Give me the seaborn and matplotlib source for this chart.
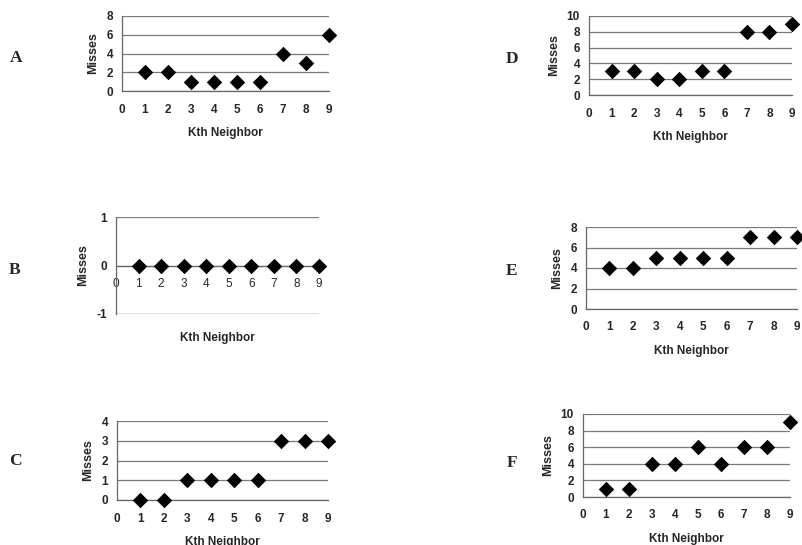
import matplotlib
matplotlib.use("Agg")
import matplotlib.pyplot as plt
import seaborn as sns
import pandas as pd

# ---- data ----
neighbors = [1, 2, 3, 4, 5, 6, 7, 8, 9]
misses_A = [2, 2, 1, 1, 1, 1, 4, 3, 6]
misses_B = [0, 0, 0, 0, 0, 0, 0, 0, 0]
misses_C = [0, 0, 1, 1, 1, 1, 3, 3, 3]
misses_D = [3, 3, 2, 2, 3, 3, 8, 8, 9]
misses_E = [4, 4, 5, 5, 5, 5, 7, 7, 7]
misses_F = [1, 1, 4, 4, 6, 4, 6, 6, 9]
panel_labels = ["A", "B", "C", "D", "E", "F"]
x_label = "Kth Neighbor"
y_label = "Misses"

series = {"A": misses_A, "B": misses_B, "C": misses_C,
          "D": misses_D, "E": misses_E, "F": misses_F}
ylims = {"A": (0, 8, 2), "B": (-1, 1, 1), "C": (0, 4, 1),
         "D": (0, 10, 2), "E": (0, 8, 2), "F": (0, 10, 2)}

W, H = 802, 545
# axes pixel boxes: left, top, right, bottom
boxes = {"A": (122, 16, 329, 91), "B": (116, 217, 319, 314), "C": (117, 421, 328, 500),
         "D": (589, 16, 792, 95), "E": (586, 227, 797, 309), "F": (583, 414, 790, 497)}
letter_pos = {"A": (16, 58), "B": (15, 270), "C": (15, 461),
              "D": (512, 59), "E": (512, 271), "F": (512, 463)}

sns.set_theme(style="white")
plt.rcParams['font.family'] = ['Liberation Sans', 'DejaVu Sans']

fig = plt.figure(figsize=(W / 100, H / 100), dpi=100)
fig.patch.set_facecolor("white")

grid_col = "#7a7a7a"
for p in panel_labels:
    l, t, r, b = boxes[p]
    ax = fig.add_axes([l / W, 1 - b / H, (r - l) / W, (b - t) / H])
    df = pd.DataFrame({"k": neighbors, "m": series[p]})
    sns.scatterplot(data=df, x="k", y="m", ax=ax, marker="D", s=62,
                    color="black", edgecolor="black", linewidth=0, clip_on=False, zorder=5)
    lo, hi, st = ylims[p]
    ax.set_xlim(0, 9)
    ax.set_ylim(lo, hi)
    ax.set_xticks(range(0, 10))
    yt = list(range(lo, hi + 1, st))
    ax.set_yticks(yt)
    ax.set_yticklabels([str(v) for v in yt])
    ax.set_facecolor("none")
    for sp in ["top", "right"]:
        ax.spines[sp].set_visible(False)
    for sp in ["left", "bottom"]:
        ax.spines[sp].set_color("#666666")
        ax.spines[sp].set_linewidth(0.9)
    ax.yaxis.grid(True, color=grid_col, linewidth=0.9)
    ax.xaxis.grid(False)
    ax.tick_params(axis="both", which="major", length=2.5, width=0.8, color="#666666",
                   labelsize=8.5, direction="out")
    ax.tick_params(axis="x", pad=6.5)
    ax.tick_params(axis="y", pad=4)
    for lab in ax.get_xticklabels() + ax.get_yticklabels():
        lab.set_fontweight("bold")
    ax.set_xlabel(x_label, fontsize=8.5, fontweight="bold", labelpad=8)
    ax.set_ylabel(y_label, fontsize=9, fontweight="bold", labelpad=5)
    if p == "B":
        ax.spines["bottom"].set_position(("data", 0))
        ax.xaxis.set_label_coords(0.5, -18 / (b - t))
        ax.axhline(-1, color=grid_col, linewidth=0.9, zorder=1)
    lx, ly = letter_pos[p]
    fig.text(lx / W, 1 - ly / H, p, ha="center", va="center", fontsize=12.5,
             fontweight="bold", family=["Liberation Serif", "DejaVu Serif"])

fig.savefig("out.png", dpi=100, facecolor="white")
